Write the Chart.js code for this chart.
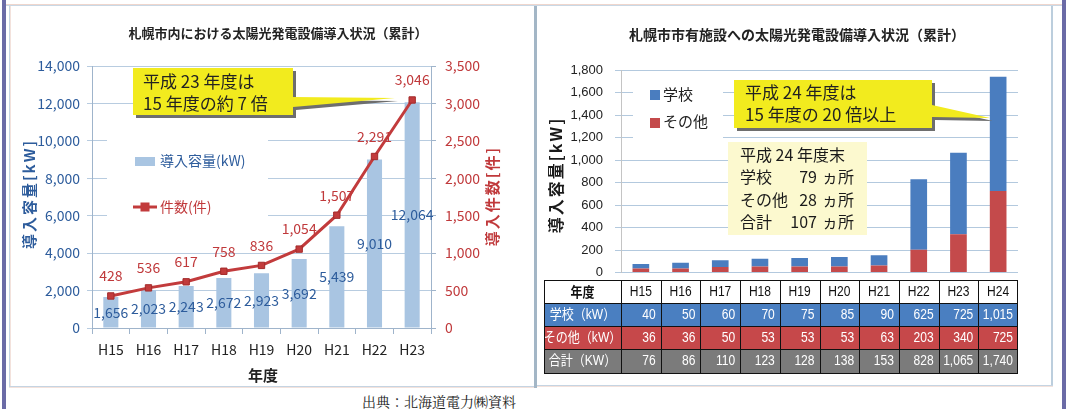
<!DOCTYPE html>
<html><head><meta charset="utf-8">
<script src="https://cdn.jsdelivr.net/npm/chart.js@4.4.1/dist/chart.umd.min.js"></script>
<style>
html,body{margin:0;padding:0;background:#fff;}
#wrap{position:relative;width:1069px;height:409px;overflow:hidden;background:#fff;}
.abs{position:absolute;}
canvas{position:absolute;}
</style></head><body>
<div id="wrap">
  <div class="abs" style="left:2px;top:0;width:4px;height:409px;background:#6b6ba6"></div>
  <div class="abs" style="left:1062px;top:0;width:4px;height:409px;background:#6b6ba6"></div>
  <div class="abs" style="left:6px;top:4px;width:1056px;height:1px;background:#efd6cd"></div>
  <div class="abs" style="left:6px;top:5px;width:1056px;height:1px;background:#c9d8e5"></div>
  <div class="abs" style="left:9px;top:6px;width:1px;height:381px;background:#c5d4e2"></div>
  <div class="abs" style="left:10px;top:6px;width:1px;height:381px;background:#f3e2dc"></div>
  <div class="abs" style="left:9px;top:386px;width:526px;height:1px;background:#c5d4e2"></div>
  <div class="abs" style="left:9px;top:387px;width:526px;height:1px;background:#f3e2dc"></div>
  <div class="abs" style="left:534px;top:6px;width:3px;height:382px;background:#a3b6c6"></div>
  <div class="abs" style="left:1051px;top:6px;width:2px;height:380px;background:#bccedd"></div>
  <div class="abs" style="left:537px;top:385px;width:516px;height:1px;background:#c5d4e2"></div>
  <div class="abs" style="left:537px;top:386px;width:516px;height:1px;background:#f3e2dc"></div>
  <canvas id="c1" width="523" height="379" style="left:11px;top:7px;width:523px;height:379px"></canvas>
  <canvas id="c2" width="513" height="378" style="left:538px;top:7px;width:513px;height:378px"></canvas>
  <div class="abs" style="left:362px;top:391px;line-height:20px;font-size:14px;font-family:'Noto Serif CJK JP','Noto Sans CJK JP',serif;color:#222">出典：北海道電力㈱資料</div>
</div>
<script>
// ---------- data ----------
const yearsLeft = ['H15','H16','H17','H18','H19','H20','H21','H22','H23'];
const capacityKW = [1656, 2023, 2243, 2672, 2923, 3692, 5439, 9010, 12064];
const installCount = [428, 536, 617, 758, 836, 1054, 1507, 2291, 3046];

const yearsRight = ['H15','H16','H17','H18','H19','H20','H21','H22','H23','H24'];
const schoolKW = [40, 50, 60, 70, 75, 85, 90, 625, 725, 1015];
const otherKW = [36, 36, 50, 53, 53, 53, 63, 203, 340, 725];
const totalKW = [76, 86, 110, 123, 128, 138, 153, 828, 1065, 1740];
const tableRowNames = ['学校（kW）', 'その他（kW）', '合計（KW）'];

// ---------- styles ----------
const JP = "'Noto Sans CJK JP', 'Noto Sans', sans-serif";
const AR = "'Liberation Sans', Arial, 'Noto Sans CJK JP', sans-serif";
const BLUE_TXT = '#2d5c9c';
const RED_TXT = '#c0393b';
const BAR_LIGHT = '#a9c5e2';
const LINE_RED = '#c23b3c';
const BAR_BLUE = '#4a7dbf';
const BAR_RED = '#c44a4b';
const GRID_L = '#b8cce0';
const AXIS_L = '#9fb4cb';
const GRID_R = '#b3c9de';
const fmt = v => Number(v).toLocaleString('en-US');

function vText(ctx, text, x, y, font, color) {
  ctx.save();
  ctx.translate(x, y);
  ctx.rotate(-Math.PI / 2);
  ctx.font = font; ctx.fillStyle = color;
  ctx.textAlign = 'center'; ctx.textBaseline = 'middle';
  try { ctx.letterSpacing = '2px'; } catch (e) {}
  ctx.fillText(text, 0, 0);
  ctx.restore();
}
function callout(ctx, b, w, lines, tx, lineYs, font) {
  const path = (dx, dy) => {
    ctx.beginPath();
    ctx.moveTo(b.x + dx, b.y + dy);
    ctx.lineTo(b.x + b.w + dx, b.y + dy);
    ctx.lineTo(b.x + b.w + dx, w.y1 + dy);
    ctx.lineTo(w.tx + dx, w.ty + dy);
    ctx.lineTo(b.x + b.w + dx, w.y2 + dy);
    ctx.lineTo(b.x + b.w + dx, b.y + b.h + dy);
    ctx.lineTo(b.x + dx, b.y + b.h + dy);
    ctx.closePath();
  };
  ctx.save();
  ctx.fillStyle = '#6e6e6e'; path(3, 3); ctx.fill();
  ctx.fillStyle = '#f2eb1e'; path(0, 0); ctx.fill();
  ctx.fillStyle = '#222'; ctx.font = font;
  ctx.textAlign = 'left'; ctx.textBaseline = 'middle';
  lines.forEach((t, i) => ctx.fillText(t, tx, lineYs[i]));
  ctx.restore();
}

// ---------- left chart ----------
const leftDeco = {
  id: 'leftDeco',
  beforeDatasetsDraw(chart) {
    const ctx = chart.ctx; ctx.save();
    ctx.fillStyle = '#fff'; ctx.fillRect(96, 118, 161, 100);
    ctx.fillStyle = BAR_LIGHT; ctx.fillRect(124, 150, 20, 9);
    ctx.font = '14px ' + JP; ctx.textBaseline = 'middle'; ctx.textAlign = 'left';
    ctx.fillStyle = BLUE_TXT; ctx.fillText('導入容量(kW)', 149, 154);
    ctx.strokeStyle = LINE_RED; ctx.lineWidth = 3;
    ctx.beginPath(); ctx.moveTo(122, 200); ctx.lineTo(146, 200); ctx.stroke();
    ctx.fillStyle = LINE_RED; ctx.fillRect(129.5, 195.5, 9, 9);
    ctx.fillStyle = RED_TXT; ctx.fillText('件数(件)', 149, 200);
    ctx.restore();
  },
  afterDatasetsDraw(chart) {
    const ctx = chart.ctx; ctx.save();
    ctx.font = '14px ' + JP; ctx.textAlign = 'center'; ctx.textBaseline = 'middle';
    const bars = chart.getDatasetMeta(1).data;
    ctx.fillStyle = BLUE_TXT;
    bars.forEach((el, i) => ctx.fillText(fmt(capacityKW[i]), el.x, (el.y + el.base) / 2));
    const pts = chart.getDatasetMeta(0).data;
    ctx.fillStyle = RED_TXT;
    pts.forEach((el, i) => ctx.fillText(fmt(installCount[i]), el.x, el.y - 20));
    ctx.restore();
  },
  afterDraw(chart) {
    const ctx = chart.ctx; ctx.save();
    ctx.fillStyle = '#222'; ctx.font = 'bold 13px ' + JP;
    ctx.textAlign = 'center'; ctx.textBaseline = 'middle';
    ctx.fillText('札幌市内における太陽光発電設備導入状況（累計）', 267, 26);
    ctx.font = 'bold 15px ' + JP;
    ctx.fillText('年度', 252, 368);
    ctx.restore();
    vText(ctx, '導入容量[kW]', 18, 187, 'bold 15px ' + JP, BLUE_TXT);
    vText(ctx, '導入件数[件]', 481, 189, 'bold 15px ' + JP, RED_TXT);
    callout(ctx, {x: 122, y: 61, w: 160, h: 47}, {y1: 90, y2: 100, tx: 384, ty: 91},
      ['平成 23 年度は', '15 年度の約 7 倍'], 132, [75, 97], '17px ' + JP);
  }
};

new Chart(document.getElementById('c1'), {
  type: 'bar',
  data: {
    labels: yearsLeft,
    datasets: [
      { type: 'line', label: '件数(件)', data: installCount, yAxisID: 'y1', order: 0,
        borderColor: LINE_RED, borderWidth: 3, tension: 0,
        pointStyle: 'rect', pointRadius: 4.5, pointBackgroundColor: LINE_RED,
        pointBorderColor: '#a32b2b', pointBorderWidth: 1 },
      { type: 'bar', label: '導入容量(kW)', data: capacityKW, yAxisID: 'y', order: 1,
        backgroundColor: BAR_LIGHT, barPercentage: 0.4, categoryPercentage: 1 }
    ]
  },
  options: {
    responsive: false, animation: false, events: [], devicePixelRatio: 1,
    layout: { padding: { top: 59, left: 0, right: 0, bottom: 0 } },
    plugins: { legend: { display: false }, tooltip: { enabled: false }, title: { display: false } },
    scales: {
      x: {
        grid: { offset: true, drawOnChartArea: false, drawTicks: true, tickLength: 6, color: AXIS_L },
        border: { color: AXIS_L },
        ticks: { color: '#222', font: { family: JP, size: 14 }, padding: 7 },
        afterFit(s) { s.height = 58; }
      },
      y: {
        position: 'left', min: 0, max: 14000,
        ticks: { stepSize: 2000, color: BLUE_TXT, font: { family: JP, size: 14 }, padding: 7, callback: v => fmt(v) },
        grid: { color: GRID_L, tickLength: 5 },
        border: { color: AXIS_L },
        afterFit(s) { s.width = 81; }
      },
      y1: {
        position: 'right', min: 0, max: 3500,
        ticks: { stepSize: 500, color: RED_TXT, font: { family: JP, size: 14 }, padding: 9, callback: v => fmt(v) },
        grid: { drawOnChartArea: false, tickLength: 5, color: AXIS_L },
        border: { color: AXIS_L },
        afterFit(s) { s.width = 103; }
      }
    }
  },
  plugins: [leftDeco]
});

// ---------- right chart ----------
const rightDeco = {
  id: 'rightDeco',
  beforeDatasetsDraw(chart) {
    const ctx = chart.ctx; ctx.save();
    ctx.fillStyle = '#fff'; ctx.fillRect(95, 73, 90, 58);
    ctx.fillStyle = BAR_BLUE; ctx.fillRect(112, 83, 10, 10);
    ctx.fillStyle = BAR_RED; ctx.fillRect(112, 111, 10, 10);
    ctx.fillStyle = '#222'; ctx.font = '15px ' + JP;
    ctx.textAlign = 'left'; ctx.textBaseline = 'middle';
    ctx.fillText('学校', 125, 87);
    ctx.fillText('その他', 125, 114);
    // info box
    ctx.fillStyle = '#fcf9cf'; ctx.fillRect(190, 135, 139, 93);
    ctx.fillStyle = '#1a1a1a'; ctx.font = '16px ' + JP;
    ctx.fillText('平成 24 年度末', 202, 148);
    const rows = [['学校', '79'], ['その他', '28'], ['合計', '107']];
    rows.forEach((r, i) => {
      const y = 170 + i * 22.5;
      ctx.textAlign = 'left'; ctx.fillText(r[0], 202, y);
      ctx.textAlign = 'right'; ctx.fillText(r[1], 279, y);
      ctx.textAlign = 'left'; ctx.fillText('ヵ所', 284, y);
    });
    ctx.restore();
  },
  afterDraw(chart) {
    const ctx = chart.ctx; ctx.save();
    ctx.fillStyle = '#222'; ctx.font = 'bold 14px ' + JP;
    ctx.textAlign = 'center'; ctx.textBaseline = 'middle';
    ctx.fillText('札幌市市有施設への太陽光発電設備導入状況（累計）', 259, 28);
    ctx.restore();
    vText(ctx, '導入容量[kW]', 18, 168, 'bold 16px ' + JP, '#1a1a1a');
    callout(ctx, {x: 196, y: 73, w: 198, h: 48}, {y1: 98, y2: 110, tx: 452, ty: 111},
      ['平成 24 年度は', '15 年度の 20 倍以上'], 207, [86, 108], '17px ' + JP);

    // data table, columns aligned to the category scale
    const xs = chart.scales.x, area = chart.chartArea;
    const cw = (area.right - area.left) / yearsRight.length;
    const rowY = [273, 296, 319, 342, 366];
    const left0 = 6;
    const rowBg = ['#ffffff', '#4a7fc1', '#c6484a', '#7b7b7b'];
    ctx.save();
    rowBg.forEach((c, r) => { ctx.fillStyle = c; ctx.fillRect(left0, rowY[r], area.right - left0, rowY[r + 1] - rowY[r]); });
    ctx.strokeStyle = '#111'; ctx.lineWidth = 1;
    ctx.beginPath();
    rowY.forEach(y => { ctx.moveTo(left0, y + 0.5); ctx.lineTo(area.right, y + 0.5); });
    ctx.moveTo(left0 + 0.5, rowY[0]); ctx.lineTo(left0 + 0.5, rowY[4]);
    for (let i = 0; i < yearsRight.length; i++) {
      const xl = Math.round(xs.getPixelForValue(i) - cw / 2) + 0.5;
      ctx.moveTo(xl, rowY[0]); ctx.lineTo(xl, rowY[4]);
    }
    ctx.moveTo(Math.round(area.right) - 0.5, rowY[0]); ctx.lineTo(Math.round(area.right) - 0.5, rowY[4]);
    ctx.stroke();

    const cy = r => (rowY[r] + rowY[r + 1]) / 2 + 0.5;
    const sx = 0.86;
    const draw = (t, x, y, align, font, color) => {
      ctx.save(); ctx.translate(x, y); ctx.scale(sx, 1);
      ctx.font = font; ctx.fillStyle = color; ctx.textAlign = align; ctx.textBaseline = 'middle';
      ctx.fillText(t, 0, 0); ctx.restore();
    };
    const firstC = (left0 + area.left) / 2;
    draw('年度', firstC, cy(0), 'center', 'bold 14px ' + JP, '#111');
    yearsRight.forEach((y, i) => draw(y, xs.getPixelForValue(i), cy(0), 'center', '14px ' + AR, '#111'));
    const vals = [schoolKW, otherKW, totalKW];
    vals.forEach((arr, r) => {
      draw(tableRowNames[r], firstC, cy(r + 1), 'center', '14px ' + AR, '#fff');
      arr.forEach((v, i) => draw(fmt(v), xs.getPixelForValue(i) + cw / 2 - 5, cy(r + 1), 'right', '14px ' + AR, '#fff'));
    });
    ctx.restore();
  }
};

new Chart(document.getElementById('c2'), {
  type: 'bar',
  data: {
    labels: yearsRight,
    datasets: [
      { label: 'その他', data: otherKW, backgroundColor: BAR_RED, stack: 's', barPercentage: 0.42, categoryPercentage: 1 },
      { label: '学校', data: schoolKW, backgroundColor: BAR_BLUE, stack: 's', barPercentage: 0.42, categoryPercentage: 1 }
    ]
  },
  options: {
    responsive: false, animation: false, events: [], devicePixelRatio: 1,
    layout: { padding: { top: 63, bottom: 112.5, left: 0, right: 33 } },
    plugins: { legend: { display: false }, tooltip: { enabled: false }, title: { display: false } },
    scales: {
      x: { display: false, stacked: true },
      y: {
        stacked: true, min: 0, max: 1800,
        ticks: { stepSize: 200, color: '#222', font: { family: AR, size: 13 }, padding: 12, callback: v => fmt(v) },
        grid: { color: GRID_R, tickLength: 6 },
        border: { color: '#c4c4c4' },
        afterFit(s) { s.width = 83; }
      }
    }
  },
  plugins: [rightDeco]
});
</script>
</body></html>
